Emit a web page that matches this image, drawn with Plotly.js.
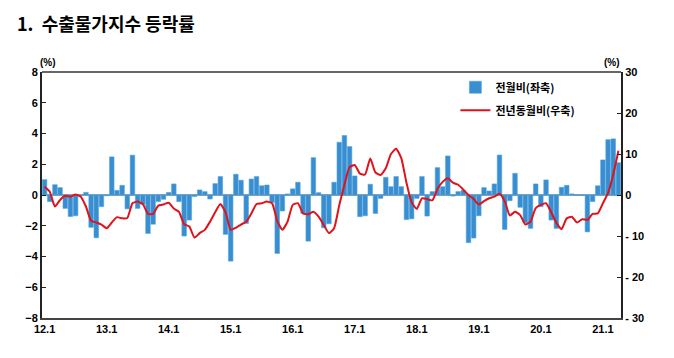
<!DOCTYPE html>
<html><head><meta charset="utf-8">
<script src="https://cdn.plot.ly/plotly-3.0.1.min.js"></script>
<style>html,body{margin:0;padding:0;background:#fff;}#chart{width:674px;height:358px;}</style>
</head><body><div id="chart"></div>
<script>
// Monthly labels 2012.1 – 2021.4
var years = ['12','13','14','15','16','17','18','19','20','21'];
var months = [];
years.forEach(function(y){ for (var m=1;m<=12;m++){ if (y==='21' && m>4) break; months.push(y+'.'+m); } });
var tickLabels = ['12.1','13.1','14.1','15.1','16.1','17.1','18.1','19.1','20.1','21.1'];

// 전월비 (left axis, %)
var momChange = [
 1.0,-0.43,0.67,0.48,-0.87,-1.4,-1.35,-0.05,0.17,-2.1,-2.78,-0.76,
 -0.05,2.48,0.3,0.63,-0.9,2.59,-0.87,-0.6,-2.5,-1.9,-0.43,-0.28,
 0.17,0.72,-0.43,-2.67,-1.63,-0.1,0.33,0.22,-0.26,0.74,1.2,-2.56,
 -4.3,1.35,0.96,-1.85,1.04,1.2,0.6,0.65,-0.48,-3.8,-1.04,0.07,
 0.4,0.83,-1.2,-3.0,2.43,0.15,-2.13,-1.87,0.83,3.43,3.87,3.15,
 1.24,-1.41,-1.35,0.7,-1.2,-0.22,1.15,0.54,1.2,0.54,-1.6,-1.55,
 -0.22,1.2,-1.37,0.22,1.78,0.54,2.54,-0.07,0.22,0.3,-3.1,-2.8,
 -1.35,0.48,0.26,0.72,2.6,-2.24,-0.37,1.41,-0.8,-1.8,-2.17,0.72,
 -0.76,0.98,-1.63,-2.17,0.5,0.63,0.07,-0.03,-0.03,-2.4,-0.43,0.6,
 2.28,3.6,3.65,2.1
];
// 전년동월비 (right axis, %)
var yoyChange = [
 2.0,0.8,-2.8,-1.2,-0.2,-0.4,0.1,-0.4,-2.8,-6.3,-6.7,-7.2,
 -8.1,-6.7,-5.4,-5.7,-5.6,-2.0,-1.6,-2.2,-4.6,-4.6,-2.6,-2.3,
 -1.9,-3.3,-4.1,-7.1,-7.7,-10.4,-9.3,-8.5,-6.5,-4.2,-2.2,-4.2,
 -8.5,-8.0,-7.2,-6.5,-4.5,-2.2,-2.0,-1.6,-2.0,-6.3,-8.5,-6.5,
 -2.4,-2.0,-4.5,-4.7,-4.1,-5.3,-7.3,-9.3,-8.1,-2.5,2.5,6.8,
 7.3,5.2,5.0,8.9,5.5,4.9,6.5,10.0,11.3,9.0,3.0,-1.8,
 -3.4,-0.8,-1.0,-1.3,1.5,3.2,4.1,3.0,2.5,1.3,0.0,-1.0,
 -2.3,-1.5,-0.8,-0.4,0.3,-1.5,-5.0,-4.1,-4.9,-7.2,-6.5,-3.2,
 -2.4,-2.0,-4.2,-6.8,-8.3,-5.7,-5.3,-6.7,-5.9,-6.1,-4.6,-4.5,
 -2.0,0.5,5.0,10.8
];
var leftTicks = [-8,-6,-4,-2,0,2,4,6,8];
var rightTicks = [-30,-20,-10,0,10,20,30];
var rightTickText = ['- 30','- 20','- 10','0','10','20','30'];

var tickFont = {family:'Liberation Sans, Arial, sans-serif', size:11, color:'#000', weight:'bold'};
var kr = 'Noto Sans CJK KR, sans-serif';

var traces = [
 {type:'bar', x:months, y:momChange, name:'전월비(좌축)', yaxis:'y', legendgroup:'a',
  marker:{color:'#3a8dcf', line:{color:'#4fa8e3', width:0.6}}},
 {type:'scatter', mode:'lines', x:months, y:yoyChange, name:'전년동월비(우축)', yaxis:'y2', legendgroup:'b',
  line:{color:'#e0121b', width:2, shape:'spline', smoothing:0.5}}
];
var layout = {
 width:674, height:358,
 margin:{l:42, r:53, t:72, b:40},
 paper_bgcolor:'#fff', plot_bgcolor:'#fff',
 bargap:0.12,
 showlegend:true,
 legend:{x:0.714, y:0.997, xanchor:'left', yanchor:'top', bgcolor:'rgba(0,0,0,0)',
   font:{family:kr, size:11, color:'#000', weight:'bold'}, tracegroupgap:4, itemwidth:30},
 xaxis:{type:'category', tickvals:tickLabels, ticktext:tickLabels, tickangle:0,
   tickfont:tickFont, showgrid:false, zeroline:false, ticks:'', showline:true,
   linecolor:'#444', linewidth:2, mirror:false, range:[-0.5, months.length-0.5]},
 yaxis:{range:[-8,8], tickvals:leftTicks, ticks:'inside', ticklen:4, tickcolor:'#222',
   tickfont:tickFont, showgrid:false, zeroline:true, zerolinecolor:'#8a9eae', zerolinewidth:2,
   showline:true, linecolor:'#222', linewidth:2},
 yaxis2:{range:[-30,30], tickvals:rightTicks, ticktext:rightTickText, overlaying:'y', side:'right',
   ticks:'inside', ticklen:4, tickcolor:'#222', tickfont:tickFont, showgrid:false, zeroline:false,
   showline:true, linecolor:'#222', linewidth:2},
 shapes:[{type:'line', xref:'paper', yref:'paper', x0:0, x1:1, y0:1, y1:1, line:{color:'#666', width:2}}],
 annotations:[
  {text:'1.  수출물가지수 등락률', xref:'paper', yref:'paper', x:-0.047, y:1.2, xanchor:'left', yanchor:'middle', showarrow:false,
   font:{family:kr, size:18, color:'#000', weight:'bold'}},
  {text:'(%)', xref:'paper', yref:'paper', x:0.01, y:1.04, xanchor:'center', yanchor:'middle', showarrow:false,
   font:{family:'Liberation Sans, Arial, sans-serif', size:10, color:'#000', weight:'bold'}},
  {text:'(%)', xref:'paper', yref:'paper', x:0.984, y:1.04, xanchor:'center', yanchor:'middle', showarrow:false,
   font:{family:'Liberation Sans, Arial, sans-serif', size:10, color:'#000', weight:'bold'}}
 ]
};
Plotly.newPlot('chart', traces, layout, {displayModeBar:false, staticPlot:true});
</script></body></html>
